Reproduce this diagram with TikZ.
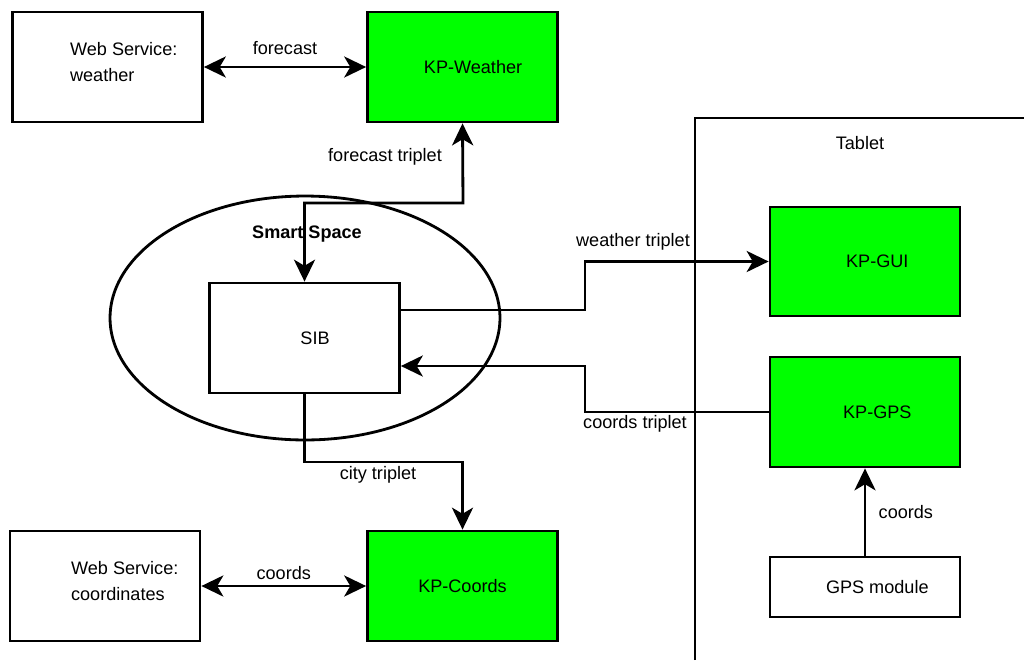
\documentclass[tikz,border=0pt]{standalone}
\usepackage{fontspec}
\setmainfont{Liberation Sans}
\usetikzlibrary{arrows.meta,shapes.geometric}
\definecolor{kpgreen}{RGB}{0,255,0}
\tikzset{
  box/.style={draw,line width=1.6pt,fill=white,minimum width=3.8cm,minimum height=2.2cm,inner sep=0pt},
  kp/.style={box,fill=kpgreen},
  arr/.style={line width=1.6pt,-{Stealth[length=12.5pt,width=12pt,inset=3.5pt]}},
  dbl/.style={line width=1.6pt,{Stealth[length=12.5pt,width=12pt,inset=3.5pt]}-{Stealth[length=12.5pt,width=12pt,inset=3.5pt]}},
  lbl/.style={inner sep=1pt}
}
\begin{document}
\begin{tikzpicture}[x=0.02cm,y=-0.02cm,font=\fontsize{10.3}{15.3}\selectfont]
  \useasboundingbox (0,0) rectangle (1024,660);
  % tablet frame
  \draw[line width=1.6pt] (695,660) |- (1030,118);
  \node[lbl] (tablet) at (860,143) {Tablet};
  % smart space
  \node[draw,ellipse,line width=1.6pt,minimum width=7.8cm,minimum height=4.88cm] (ss) at (305,318) {};
  \node[lbl,font=\fontsize{10.3}{12}\selectfont\bfseries] (sstitle) at (307,234) {Smart Space};
  \node[box] (sib) at (304.5,338) {\hspace{12pt}SIB};
  % boxes
  \node[box] (wsw) at (107.5,67) {};
  \node[lbl,align=left,anchor=west] (wswtxt) at (68,62) {Web Service:\\weather};
  \node[kp] (kpw) at (462.5,67) {\hspace{12pt}KP-Weather};
  \node[box] (wsc) at (105,586) {};
  \node[lbl,align=left,anchor=west] (wsctxt) at (69,581) {Web Service:\\coordinates};
  \node[kp] (kpc) at (462.5,586) {KP-Coords};
  \node[kp,minimum height=2.18cm] (kpgui) at (865,261.5) {\hspace{14pt}KP-GUI};
  \node[kp] (kpgps) at (865,412) {\hspace{14pt}KP-GPS};
  \node[box,minimum height=1.2cm] (gps) at (865,587) {\hspace{14pt}GPS module};
  % bends
  \coordinate (ft) at (463,203);
  \coordinate (wt) at (585,310);
  \coordinate (ct) at (585,366);
  \coordinate (cy) at (303,462);
  % connectors
  \draw[dbl] (wsw.east) -- (kpw.west) node[lbl,midway,above=5pt] (lfc) {forecast};
  \draw[dbl] (kpw.south) -- (ft) -| (sib.north);
  \node[lbl] (lft) at (385,157) {forecast triplet};
  \draw[arr] (sib.east |- wt) -- (wt) |- (kpgui.west);
  \node[lbl] (lwt) at (633,242) {weather triplet};
  \draw[arr] (kpgps.west) -| (ct) -- (sib.east |- ct);
  \node[lbl] (lct) at (635,424) {coords triplet};
  \draw[arr] (sib.south) -- (sib.south |- cy) -| (kpc.north);
  \node[lbl] (lcy) at (378,475) {city triplet};
  \draw[dbl] (wsc.east) -- (kpc.west) node[lbl,midway,above=2pt] (lco) {coords};
  \draw[arr] (gps.north) -- (kpgps.south) node[lbl,midway,right=6pt] (lgp) {coords};
\end{tikzpicture}
\end{document}
